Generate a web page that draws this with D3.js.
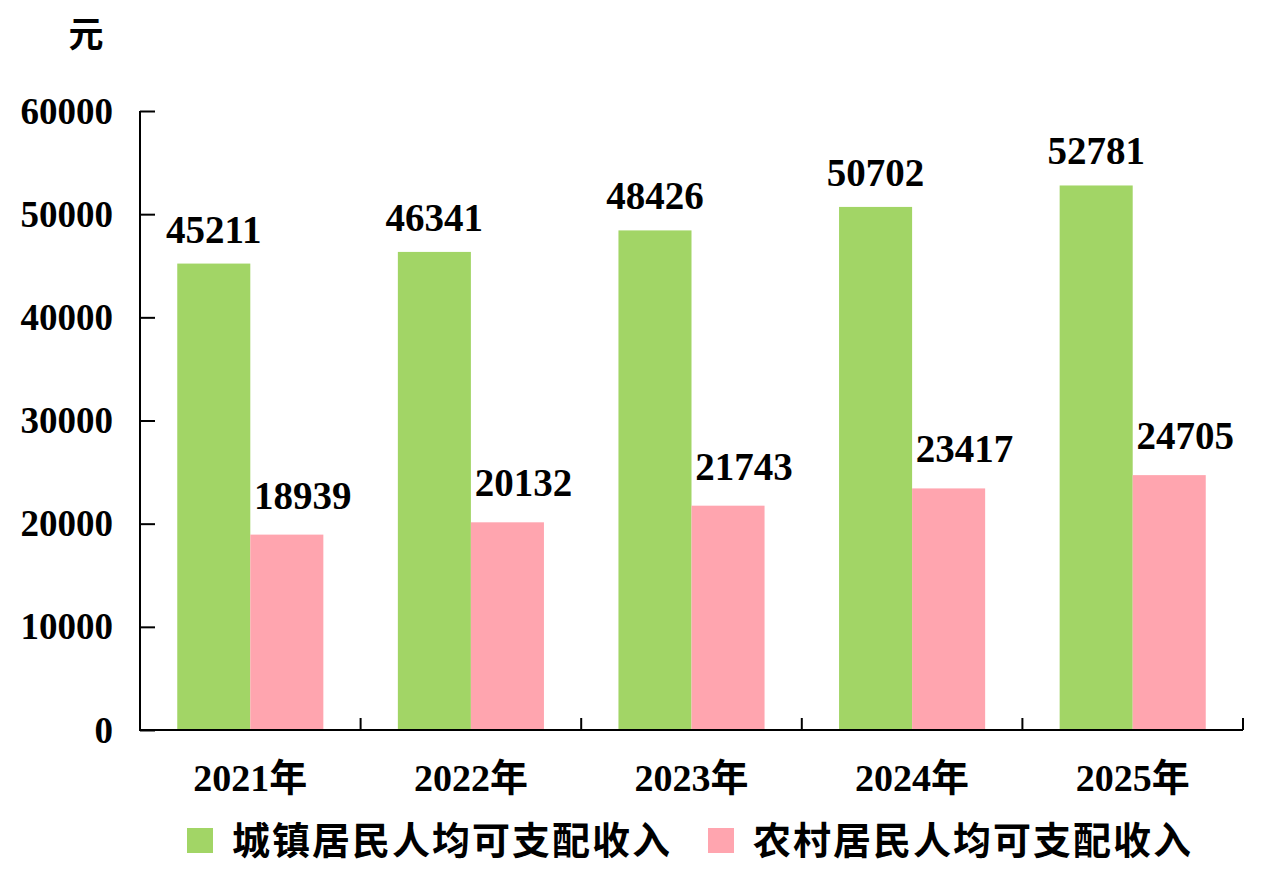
<!DOCTYPE html>
<html>
<head>
<meta charset="utf-8">
<script src="https://cdn.jsdelivr.net/npm/d3@7"></script>
<style>
  body { margin: 0; background: #fff; }
  svg { display: block; }
  .num { font-family: "Liberation Serif", "Noto Sans CJK SC", serif; font-weight: bold; fill: #000; }
  .cjk { font-family: "Noto Sans CJK SC", sans-serif; font-weight: bold; fill: #000; }
</style>
</head>
<body>
<svg id="chart" width="1266" height="870"></svg>
<script>
// data
const years = ["2021年", "2022年", "2023年", "2024年", "2025年"];
const seriesNames = ["城镇居民人均可支配收入", "农村居民人均可支配收入"];
const urban = [45211, 46341, 48426, 50702, 52781];
const rural = [18939, 20132, 21743, 23417, 24705];
const yTicks = [0, 10000, 20000, 30000, 40000, 50000, 60000];
const colors = ["#a2d566", "#ffa5af"];

const svg = d3.select("#chart");
const plotLeft = 140, plotRight = 1243, plotTop = 111, plotBottom = 730;

const x = d3.scaleBand().domain(years).range([plotLeft, plotRight]).padding(0);
const xs = d3.scaleBand().domain(seriesNames).range([0, x.bandwidth()])
    .paddingInner(0).paddingOuter(0.51);
const y = d3.scaleLinear().domain([0, 60000]).range([plotBottom, plotTop]);

const rows = years.map((yr, i) => ({ year: yr, vals: [urban[i], rural[i]] }));

// bars
const groups = svg.selectAll("g.yr")
    .data(rows)
    .join("g")
    .attr("class", "yr")
    .attr("transform", d => `translate(${x(d.year)},0)`);

groups.selectAll("rect")
    .data(d => d.vals.map((v, k) => ({ name: seriesNames[k], v, k })))
    .join("rect")
    .attr("x", d => xs(d.name))
    .attr("y", d => y(d.v))
    .attr("width", xs.bandwidth())
    .attr("height", d => plotBottom - y(d.v))
    .attr("fill", d => colors[d.k]);

groups.selectAll("text")
    .data(d => d.vals.map((v, k) => ({ name: seriesNames[k], v, k })))
    .join("text")
    .attr("class", "num")
    .attr("x", d => xs(d.name) + xs.bandwidth() / 2 + (d.k === 1 ? 16 : 0))
    .attr("y", d => y(d.v) - (d.k === 1 ? 26 : 21))
    .attr("text-anchor", "middle")
    .attr("font-size", 39)
    .text(d => d.v);

// y axis
const yAxis = svg.append("g")
    .attr("transform", `translate(${plotLeft},0)`)
    .call(d3.axisRight(y).tickValues(yTicks).tickSize(15).tickFormat(""));
yAxis.select(".domain").remove();
yAxis.selectAll("line").attr("stroke", "#000").attr("stroke-width", 2);
svg.append("line")
    .attr("x1", plotLeft).attr("x2", plotLeft)
    .attr("y1", plotTop).attr("y2", plotBottom + 1)
    .attr("stroke", "#000").attr("stroke-width", 2);

svg.append("g").selectAll("text")
    .data(yTicks)
    .join("text")
    .attr("class", "num")
    .attr("x", 113)
    .attr("y", d => y(d))
    .attr("dy", "0.34em")
    .attr("text-anchor", "end")
    .attr("font-size", 37)
    .text(d => d);

// x axis
svg.append("line")
    .attr("x1", plotLeft - 1).attr("x2", plotRight)
    .attr("y1", plotBottom).attr("y2", plotBottom)
    .attr("stroke", "#000").attr("stroke-width", 2);
svg.append("g").selectAll("line")
    .data(years)
    .join("line")
    .attr("x1", d => x(d) + x.bandwidth())
    .attr("x2", d => x(d) + x.bandwidth())
    .attr("y1", plotBottom)
    .attr("y2", plotBottom - 12)
    .attr("stroke", "#000").attr("stroke-width", 2);

svg.append("g").selectAll("text")
    .data(years)
    .join("text")
    .attr("class", "num")
    .attr("x", d => x(d) + x.bandwidth() / 2)
    .attr("y", 778)
    .attr("dy", "0.35em")
    .attr("text-anchor", "middle")
    .attr("font-size", 38)
    .text(d => d);

// unit
svg.append("text")
    .attr("class", "cjk")
    .attr("x", 86).attr("y", 35)
    .attr("dy", "0.35em")
    .attr("text-anchor", "middle")
    .attr("font-size", 35)
    .text("元");

// legend
const legendX = [187, 708];
const lg = svg.append("g").selectAll("g")
    .data(seriesNames)
    .join("g")
    .attr("transform", (d, i) => `translate(${legendX[i]},828)`);
lg.append("rect")
    .attr("width", 26).attr("height", 25)
    .attr("fill", (d, i) => colors[i]);
lg.append("text")
    .attr("class", "cjk")
    .attr("x", 45).attr("y", 13)
    .attr("dy", "0.35em")
    .attr("font-size", 38)
    .attr("letter-spacing", 2)
    .text(d => d);
</script>
</body>
</html>
